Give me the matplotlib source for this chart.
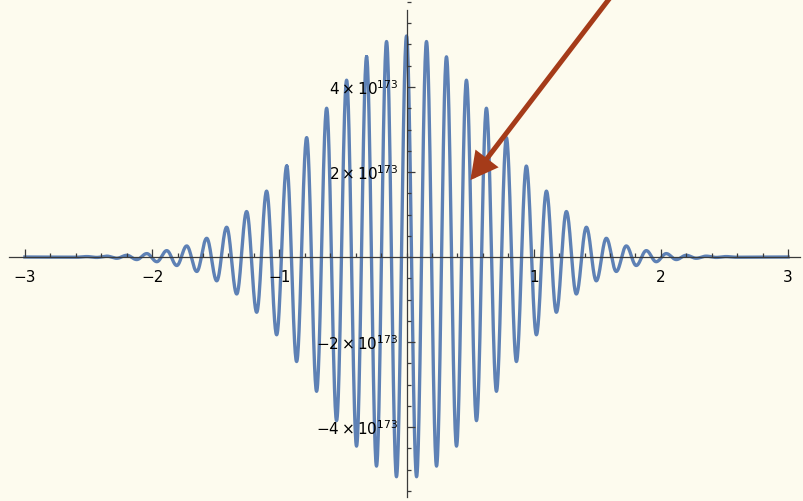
import numpy as np
import matplotlib
matplotlib.use("Agg")
import matplotlib.pyplot as plt
from matplotlib.ticker import FixedLocator, FixedFormatter, MultipleLocator

plt.rcParams['font.family'] = ['DejaVu Sans']
plt.rcParams['mathtext.fontset'] = 'dejavusans'

# ---- data (values in units of 1e173) ----
extrema_x = [-2.592, -2.513, -2.435, -2.356, -2.278, -2.199, -2.121, -2.042,
             -1.963, -1.885, -1.806, -1.728, -1.649, -1.571, -1.492, -1.414,
             -1.335, -1.257, -1.178, -1.100, -1.021, -0.942, -0.864, -0.785,
             -0.707, -0.628, -0.550, -0.471, -0.393, -0.314, -0.236, -0.157,
             -0.079, 0.000, 0.079, 0.157, 0.236, 0.314, 0.393, 0.471, 0.550,
             0.628, 0.707, 0.785, 0.864, 0.942, 1.021, 1.100, 1.178, 1.257,
             1.335, 1.414, 1.492, 1.571, 1.649, 1.728, 1.806, 1.885, 1.963,
             2.042, 2.121, 2.199, 2.278, 2.356, 2.435, 2.513, 2.592]
extrema_y = [-0.005, 0.01, -0.01, 0.02, -0.03, 0.04, -0.06, 0.08,
             -0.11, 0.15, -0.20, 0.26, -0.34, 0.44, -0.56, 0.70,
             -0.87, 1.07, -1.30, 1.55, -1.83, 2.14, -2.46, 2.81,
             -3.16, 3.50, -3.85, 4.16, -4.45, 4.71, -4.92, 5.07,
             -5.17, 5.20, -5.17, 5.07, -4.92, 4.71, -4.45, 4.16, -3.85,
             3.50, -3.16, 2.81, -2.46, 2.14, -1.83, 1.55, -1.30, 1.07,
             -0.87, 0.70, -0.56, 0.44, -0.34, 0.26, -0.20, 0.15, -0.11,
             0.08, -0.06, 0.04, -0.03, 0.02, -0.01, 0.01, -0.005]
x_range = [-3.0, 3.0]

x_ticks = [-3, -2, -1, 1, 2, 3]
x_tick_labels = ['\u22123', '\u22122', '\u22121', '1', '2', '3']
y_ticks = [-4, -2, 2, 4]
y_tick_labels = [r'$\mathregular{-4\times10^{173}}$', r'$\mathregular{-2\times10^{173}}$',
                 r'$\mathregular{2\times10^{173}}$', r'$\mathregular{4\times10^{173}}$']

arrow_tip = (0.503, 1.81)
arrow_tail = (1.60, 6.10)

# ---- style ----
bg = '#FDFBEE'
line_c = '#5E81B5'
axis_c = '#3A3A3A'
arrow_c = '#A53B19'

fig = plt.figure(figsize=(8.04, 5.01), dpi=100, facecolor=bg)
ax = fig.add_axes([0, 0, 1, 1], facecolor=bg)

# smooth curve through the read extrema (half-cosine between neighbours)
pts = [(x_range[0], 0.0)] + list(zip(extrema_x, extrema_y)) + [(x_range[1], 0.0)]
xs, ys = [], []
t = np.linspace(0, 1, 30)
for (x0, y0), (x1, y1) in zip(pts[:-1], pts[1:]):
    xs.extend(x0 + (x1 - x0) * t)
    ys.extend((y0 + y1) / 2 + (y0 - y1) / 2 * np.cos(np.pi * t))
ax.plot(xs, ys, color=line_c, lw=2.4, solid_joinstyle='round', zorder=1)

ax.set_xlim(-3.196, 3.125)
ax.set_ylim(-5.741, 6.047)

for s in ['top', 'right']:
    ax.spines[s].set_visible(False)
ax.spines['left'].set_position(('data', 0))
ax.spines['bottom'].set_position(('data', 0))
ax.spines['left'].set_bounds(-5.65, 5.81)
ax.spines['bottom'].set_bounds(-3.125, 3.094)
for s in ['left', 'bottom']:
    ax.spines[s].set_color(axis_c)
    ax.spines[s].set_linewidth(0.9)
    ax.spines[s].set_zorder(3)

ax.xaxis.set_major_locator(FixedLocator(x_ticks))
ax.xaxis.set_major_formatter(FixedFormatter(x_tick_labels))
ax.xaxis.set_minor_locator(MultipleLocator(0.2))
ax.yaxis.set_major_locator(FixedLocator(y_ticks))
ax.yaxis.set_major_formatter(FixedFormatter(y_tick_labels))
ax.yaxis.set_minor_locator(MultipleLocator(0.5))

ax.tick_params(axis='both', which='both', direction='in', color=axis_c, width=0.9,
               labelsize=11, labelcolor='black')
ax.tick_params(axis='both', which='major', length=5.5)
ax.tick_params(axis='both', which='minor', length=3)
ax.tick_params(axis='x', which='major', pad=9)
ax.tick_params(axis='y', which='major', pad=6)
for lab in ax.get_yticklabels():
    lab.set_verticalalignment('center_baseline')
ax.set_axisbelow(False)
ax.xaxis.set_zorder(4)
ax.yaxis.set_zorder(4)

ax.annotate('', xy=arrow_tip, xytext=arrow_tail, annotation_clip=False,
            arrowprops=dict(arrowstyle='-|>,head_length=14,head_width=7.5',
                            mutation_scale=1, color=arrow_c, lw=3.6,
                            shrinkA=0, shrinkB=0, joinstyle='miter'),
            zorder=5)

fig.savefig('out.png', dpi=100, facecolor=bg)
